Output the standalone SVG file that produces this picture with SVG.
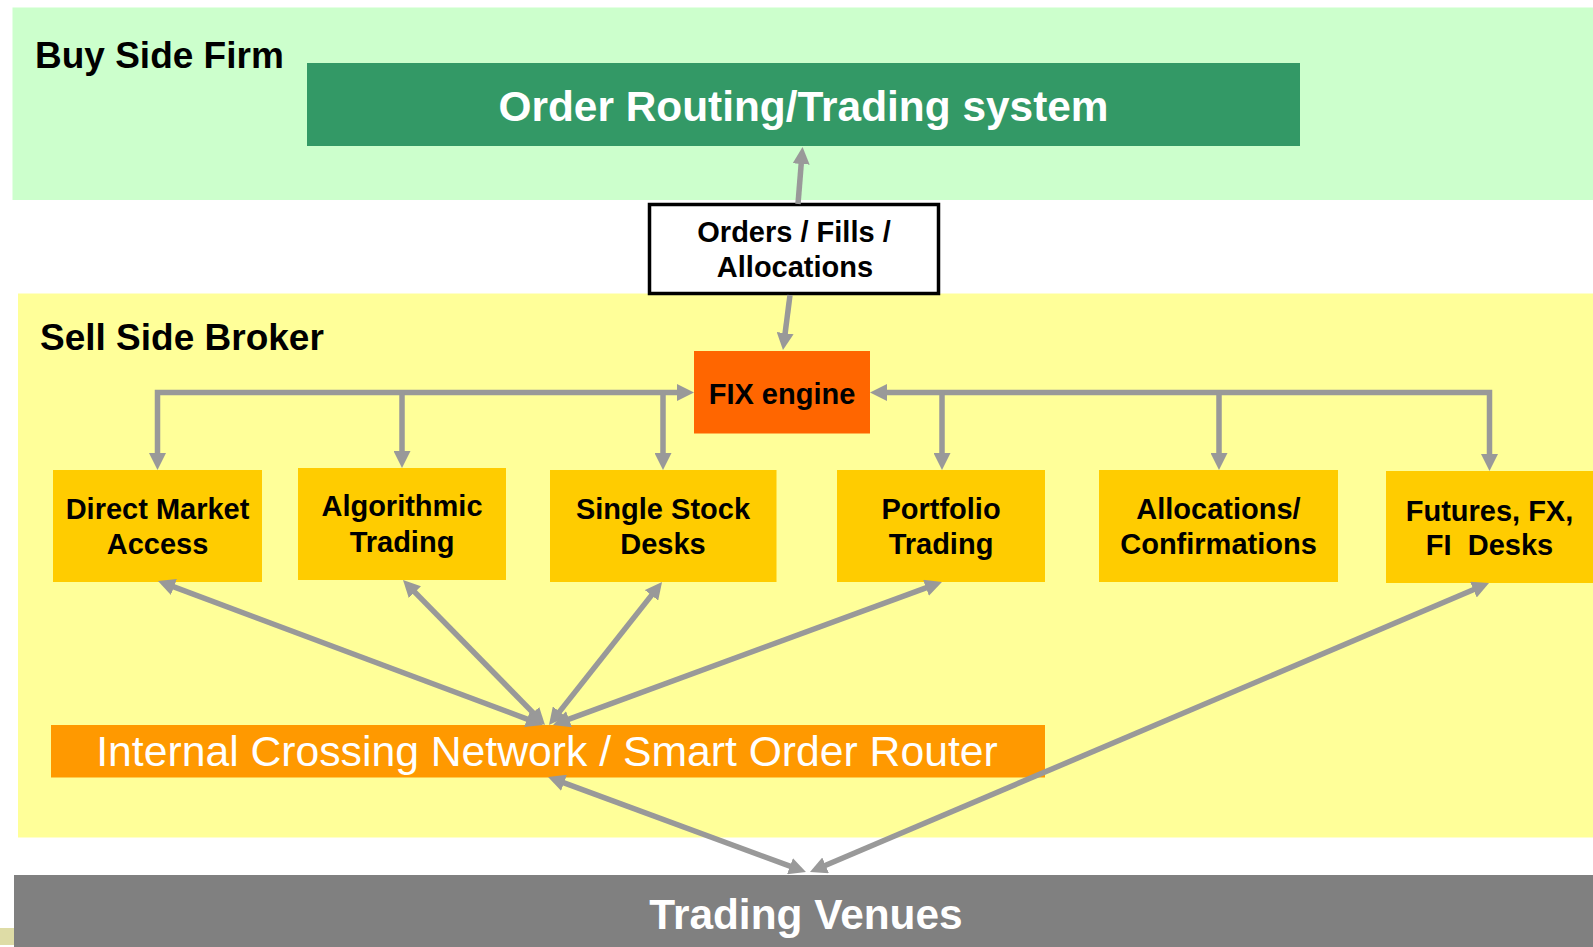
<svg xmlns="http://www.w3.org/2000/svg" width="1593" height="947" viewBox="0 0 1593 947">
<style>
.t{font-family:"Liberation Sans",Arial,sans-serif;font-weight:bold;fill:#000}
.c{text-anchor:middle}
.lbl{font-family:"Liberation Sans",Arial,sans-serif;font-weight:bold;font-size:29px;fill:#000;text-anchor:middle}
.desk{fill:#FFCC00}
.con{fill:none;stroke:#999999;stroke-width:5.5;marker-end:url(#ah)}
.dbl{marker-start:url(#ah)}
</style>
<defs>
<marker id="ah" markerUnits="userSpaceOnUse" markerWidth="17" markerHeight="17" refX="5" refY="8.5" orient="auto-start-reverse" viewBox="0 0 17 17">
<path d="M0,0 L17,8.5 L0,17 z" fill="#999999"/>
</marker>
</defs>
<rect width="1593" height="947" fill="#FFFFFF"/>
<g id="buy-side-firm">
<rect x="12.5" y="7.5" width="1580.5" height="192.5" fill="#CCFFCC"/>
<text class="t" x="35" y="68" font-size="37">Buy Side Firm</text>
</g>
<g id="sell-side-broker">
<rect x="18" y="293.5" width="1575" height="544" fill="#FFFF99"/>
<text class="t" x="40" y="350" font-size="37">Sell Side Broker</text>
</g>
<g id="trading-venues">
<rect x="14" y="875" width="1579" height="72" fill="#808080"/>
<text class="t c" x="806" y="929" font-size="42.4" style="fill:#FFFFFF">Trading Venues</text>
</g>
<rect x="0" y="928" width="14" height="17" fill="#DEDCA6"/>
<g id="order-routing">
<rect x="307" y="63" width="993" height="83" fill="#339966"/>
<text class="t c" x="803.5" y="121" font-size="42.4" style="fill:#FFFFFF">Order Routing/Trading system</text>
</g>
<g id="orders-fills-allocations">
<rect x="649.5" y="204.5" width="289" height="89" fill="#FFFFFF" stroke="#000000" stroke-width="3.5"/>
<text class="t c" x="794" y="242" font-size="29">Orders / Fills /</text>
<text class="t c" x="795" y="277" font-size="29">Allocations</text>
</g>
<g id="fix-engine">
<rect x="694" y="351" width="176" height="82.5" fill="#FF6600"/>
<text class="lbl" x="782" y="404">FIX engine</text>
</g>
<g id="direct-market-access">
<rect class="desk" x="53" y="470" width="209" height="112"/>
<text class="lbl" x="157.5" y="518.5">Direct Market</text>
<text class="lbl" x="157.5" y="554">Access</text>
</g>
<g id="algorithmic-trading">
<rect class="desk" x="298" y="468" width="208" height="112"/>
<text class="lbl" x="402" y="516">Algorithmic</text>
<text class="lbl" x="402" y="551.5">Trading</text>
</g>
<g id="single-stock-desks">
<rect class="desk" x="550" y="470" width="226.5" height="112"/>
<text class="lbl" x="663" y="518.5">Single Stock</text>
<text class="lbl" x="663" y="554">Desks</text>
</g>
<g id="portfolio-trading">
<rect class="desk" x="837" y="470" width="208" height="112"/>
<text class="lbl" x="941" y="518.5">Portfolio</text>
<text class="lbl" x="941" y="554">Trading</text>
</g>
<g id="allocations-confirmations">
<rect class="desk" x="1099" y="470" width="239" height="112"/>
<text class="lbl" x="1218.5" y="518.5">Allocations/</text>
<text class="lbl" x="1218.5" y="554">Confirmations</text>
</g>
<g id="futures-fx-fi-desks">
<rect class="desk" x="1386" y="471" width="207" height="112"/>
<text class="lbl" x="1489.5" y="520.5">Futures, FX,</text>
<text class="lbl" x="1489.5" y="555" xml:space="preserve">FI  Desks</text>
</g>
<g id="internal-crossing-network">
<rect x="51" y="725" width="994" height="52.5" fill="#FF9900"/>
<text x="547" y="766" font-family="Liberation Sans, Arial, sans-serif" font-size="42.7" fill="#FFFFFF" text-anchor="middle">Internal Crossing Network / Smart Order Router</text>
</g>
<g id="connectors">
<path class="con" d="M798,204 L801.6,159"/>
<path class="con" d="M790,295 L784.5,338.1"/>
<path class="con dbl" d="M157.5,458 V392.5 H682"/>
<path class="con" d="M402,392.5 V456"/>
<path class="con" d="M663,392.5 V458"/>
<path class="con dbl" d="M1489.5,459 V392.5 H882"/>
<path class="con" d="M942,392.5 V458"/>
<path class="con" d="M1219,392.5 V458"/>
<path class="con dbl" d="M169.2,585.2 L531.8,720.8"/>
<path class="con dbl" d="M411.4,588.6 L536.6,716.4"/>
<path class="con dbl" d="M654.6,591.4 L556.4,715.6"/>
<path class="con dbl" d="M930.7,586.1 L564.3,720.9"/>
<path class="con dbl" d="M559.3,781.1 L794.7,867.9"/>
<path class="con dbl" d="M1478,587.7 L821,867.3"/>
</g>
</svg>
